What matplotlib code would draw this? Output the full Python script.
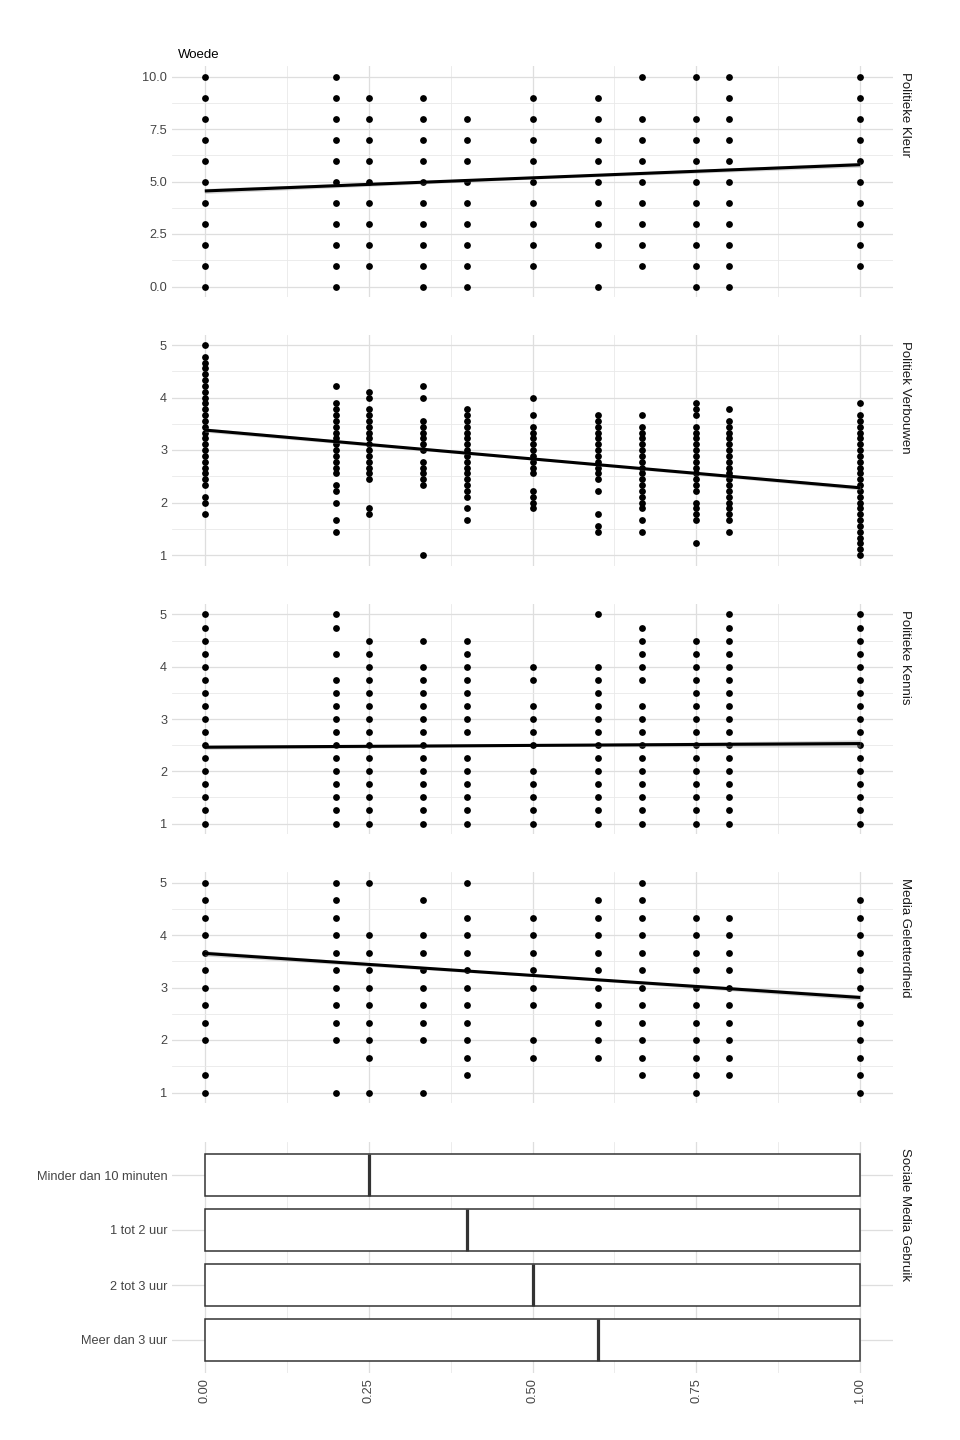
import numpy as np
import matplotlib.pyplot as plt

plt.rcParams['font.family'] = ['Liberation Sans', 'DejaVu Sans']

# gemeten waarden op de x-as (aandeel woede)
x_levels = [0, 0.2, 0.25, 1/3, 0.4, 0.5, 0.6, 2/3, 0.75, 0.8, 1.0]

# Politieke Kleur: schaal 0-10, per x-niveau de voorkomende scores
kleur_y = [
    list(range(0, 11)), list(range(0, 11)), list(range(1, 10)), list(range(0, 10)),
    list(range(0, 9)), list(range(1, 10)), [0] + list(range(2, 10)), list(range(1, 9)) + [10],
    list(range(0, 9)) + [10], list(range(0, 11)), list(range(1, 11)),
]
# Politiek Verbouwen: scores in negenden (waarde = n / 9)
verbouwen_9 = [
    [16, 18, 19] + list(range(21, 44)) + [45],
    [13, 15, 18, 20, 21] + list(range(23, 36)) + [38],
    [16, 17] + list(range(22, 35)) + [36, 37],
    [9] + list(range(21, 26)) + list(range(27, 33)) + [36, 38],
    [15, 17] + list(range(19, 35)),
    [17, 18, 19, 20] + list(range(23, 32)) + [33, 36],
    [13, 14, 16, 20] + list(range(22, 34)),
    [13, 15] + list(range(17, 32)) + [33],
    [11, 15, 16, 17, 18] + list(range(20, 32)) + [33, 34, 35],
    [13] + list(range(15, 33)) + [34],
    list(range(9, 34)) + [35],
]
# Politieke Kennis: scores in kwarten (waarde = n / 4)
kennis_4 = [
    list(range(4, 21)),
    list(range(4, 16)) + [17, 19, 20],
    list(range(4, 19)),
    list(range(4, 17)) + [18],
    list(range(4, 10)) + list(range(11, 19)),
    list(range(4, 9)) + list(range(10, 14)) + [15, 16],
    list(range(4, 17)) + [20],
    list(range(4, 14)) + list(range(15, 20)),
    list(range(4, 19)),
    list(range(4, 21)),
    list(range(4, 21)),
]
# Media Geletterdheid: scores in derden (waarde = n / 3)
media_3 = [
    [3, 4] + list(range(6, 16)),
    [3] + list(range(6, 16)),
    [3] + list(range(5, 13)) + [15],
    [3] + list(range(6, 13)) + [14],
    list(range(4, 14)) + [15],
    [5, 6] + list(range(8, 14)),
    list(range(5, 15)),
    list(range(4, 16)),
    list(range(3, 14)),
    list(range(4, 14)),
    list(range(3, 15)),
]

# regressielijnen (waarde bij x=0 en x=1) en halve breedte van de band bij x = 0, 0.5, 1
fit_x = [0.0, 1.0]
band_x = [0.0, 0.5, 1.0]
fits = {
    'Politieke Kleur': ([4.55, 5.80], [0.12, 0.06, 0.12]),
    'Politiek Verbouwen': ([3.38, 2.28], [0.04, 0.02, 0.04]),
    'Politieke Kennis': ([2.46, 2.53], [0.04, 0.02, 0.07]),
    'Media Geletterdheid': ([3.65, 2.81], [0.05, 0.02, 0.05]),
}

# Sociale Media Gebruik: boxplots
gebruik_cat = ['Minder dan 10 minuten', '1 tot 2 uur', '2 tot 3 uur', 'Meer dan 3 uur']
gebruik_q1 = [0, 0, 0, 0]
gebruik_med = [0.25, 0.40, 0.50, 0.60]
gebruik_q3 = [1, 1, 1, 1]

panels = [
    ('Politieke Kleur', kleur_y, 1),
    ('Politiek Verbouwen', verbouwen_9, 9),
    ('Politieke Kennis', kennis_4, 4),
    ('Media Geletterdheid', media_3, 3),
]

TICK_COL = '#444444'
GRID_MAJ = '#DEDEDE'
GRID_MIN = '#E9E9E9'

fig = plt.figure(figsize=(9.6, 14.4), dpi=100)

left, width = 172 / 960, 721 / 960
tops_px = [66, 334.5, 604, 872, 1142]
heights_px = [231, 231, 230, 231, 231]


def style_axes(ax):
    for s in ax.spines.values():
        s.set_visible(False)
    ax.tick_params(which='both', length=0, pad=3.5, labelsize=9.2, labelcolor=TICK_COL)
    ax.set_xlim(-0.05, 1.05)
    ax.set_xticks([0, 0.25, 0.5, 0.75, 1.0])
    ax.set_xticks([0.125, 0.375, 0.625, 0.875], minor=True)
    ax.grid(which='major', color=GRID_MAJ, lw=0.9)
    ax.grid(which='minor', color=GRID_MIN, lw=0.6)
    ax.set_axisbelow(True)


axes = []
for i in range(5):
    b = 1 - (tops_px[i] + heights_px[i]) / 1440
    ax = fig.add_axes([left, b, width, heights_px[i] / 1440])
    style_axes(ax)
    axes.append(ax)

for ax, (name, ylists, denom) in zip(axes[:4], panels):
    xs, ys = [], []
    for xv, yl in zip(x_levels, ylists):
        for yv in yl:
            xs.append(xv)
            ys.append(yv / denom)
    ax.scatter(xs, ys, s=24, color='black', linewidths=0, zorder=3)
    fy, hw = fits[name]
    fit_at_band = np.interp(band_x, fit_x, fy)
    ax.fill_between(band_x, fit_at_band - np.array(hw), fit_at_band + np.array(hw),
                    color='#999999', alpha=0.4, lw=0, zorder=4)
    ax.plot(fit_x, fy, color='black', lw=2.2, zorder=5, solid_capstyle='butt')
    if name == 'Politieke Kleur':
        ax.set_ylim(-0.5, 10.5)
        ax.set_yticks([0, 2.5, 5, 7.5, 10])
        ax.set_yticklabels(['0.0', '2.5', '5.0', '7.5', '10.0'])
        ax.set_yticks([1.25, 3.75, 6.25, 8.75], minor=True)
    else:
        ax.set_ylim(0.8, 5.2)
        ax.set_yticks([1, 2, 3, 4, 5])
        ax.set_yticks([1.5, 2.5, 3.5, 4.5], minor=True)
    ax.tick_params(axis='x', labelbottom=False)
    ax.text(1.0166, 0.972, name, transform=ax.transAxes, rotation=-90,
            ha='center', va='top', fontsize=9.5, color='#1A1A1A')

# boxplot-paneel
ax = axes[4]
pos = np.arange(1, len(gebruik_cat) + 1)
stats = [{'med': m, 'q1': a, 'q3': c, 'whislo': a, 'whishi': c, 'fliers': []}
         for a, m, c in zip(gebruik_q1, gebruik_med, gebruik_q3)]
ax.bxp(stats, positions=pos, widths=0.75, orientation='horizontal', patch_artist=True,
       showcaps=False, showfliers=False,
       boxprops=dict(facecolor='white', edgecolor='#333333', lw=1.1),
       medianprops=dict(color='#333333', lw=2.3, solid_capstyle='butt'),
       whiskerprops=dict(color='#333333', lw=1.1), manage_ticks=False)
ax.set_ylim(4.6, 0.4)
ax.set_yticks(pos)
ax.set_yticklabels(gebruik_cat)
ax.grid(axis='y', which='minor', visible=False)
ax.set_xticklabels(['0.00', '0.25', '0.50', '0.75', '1.00'], rotation=90, va='top')
ax.text(1.0166, 0.972, 'Sociale Media Gebruik', transform=ax.transAxes, rotation=-90,
        ha='center', va='top', fontsize=9.5, color='#1A1A1A')

fig.text(178 / 960, 1 - 55 / 1440, 'Woede', ha='left', va='center', fontsize=9.5, color='black')

fig.savefig('out.png', dpi=100, facecolor='white')
